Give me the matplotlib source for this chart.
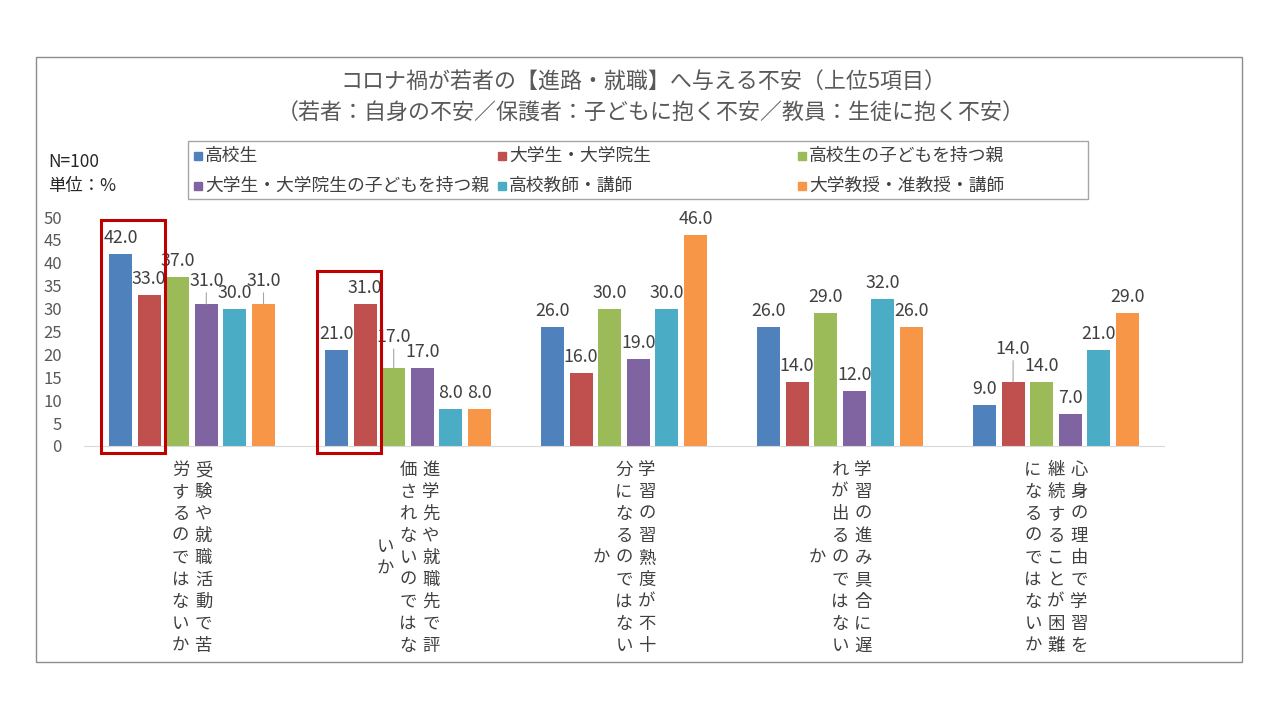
import numpy as np
import matplotlib
matplotlib.use('Agg')
import matplotlib.pyplot as plt
from matplotlib.patches import Rectangle

plt.rcParams['font.family'] = ['Noto Sans CJK JP', 'DejaVu Sans']

# Data
title_1 = 'コロナ禍が若者の【進路・就職】へ与える不安（上位5項目）'
title_2 = '（若者：自身の不安／保護者：子どもに抱く不安／教員：生徒に抱く不安）'
categories = ['受験や就職活動で苦労するのではないか',
              '進学先や就職先で評価されないのではないか',
              '学習の習熟度が不十分になるのではないか',
              '学習の進み具合に遅れが出るのではないか',
              '心身の理由で学習を継続することが困難になるのではないか']
groups = ['高校生', '大学生・大学院生', '高校生の子どもを持つ親',
          '大学生・大学院生の子どもを持つ親', '高校教師・講師', '大学教授・准教授・講師']
high_school = [42, 21, 26, 26, 9]
university = [33, 31, 16, 14, 14]
hs_parents = [37, 17, 30, 29, 14]
uni_parents = [31, 17, 19, 12, 7]
hs_teachers = [30, 8, 30, 32, 21]
uni_teachers = [31, 8, 46, 26, 29]
series = [high_school, university, hs_parents, uni_parents, hs_teachers, uni_teachers]
highlighted = [0, 1]   # categories with red box around the first two bars

colors = ['#4F81BD', '#C0504D', '#9BBB59', '#8064A2', '#4BACC6', '#F79646']
# label raise in pixels (where Excel moved the label up, with leader line)
raise_px = {(3, 0): 7, (5, 0): 7, (2, 1): 15, (1, 4): 17}

W, H = 1280, 720
PT = 0.72  # px -> pt at dpi 100

fig = plt.figure(figsize=(12.8, 7.2), dpi=100)

def fx(x):
    return x / W

def fy(y):
    return 1 - y / H

# outer frame
fig.patches.append(Rectangle((fx(36), fy(662)), fx(1242 - 36), (662 - 57) / H,
                             transform=fig.transFigure, fill=False,
                             ec='#8c8c8c', lw=1.0))

fig.text(fx(643), fy(83), title_1, ha='center', va='center', fontsize=15.8, color='#595959')
fig.text(fx(651), fy(114), title_2, ha='center', va='center', fontsize=15.8, color='#595959')
fig.text(fx(48), fy(162), 'N=100', ha='left', va='center', fontsize=12.5, color='#262626')
fig.text(fx(48), fy(186), '単位：%', ha='left', va='center', fontsize=12.5, color='#262626')

# legend (Excel style, equal column widths)
fig.patches.append(Rectangle((fx(188), fy(199)), fx(1088 - 188), (199 - 141) / H,
                             transform=fig.transFigure, fill=False,
                             ec='#a6a6a6', lw=1.0))
col_x = [194, 498, 798]
row_y = [156, 186]
for k, name in enumerate(groups):
    cx = col_x[k % 3]
    cy = row_y[k // 3]
    fig.patches.append(Rectangle((fx(cx), fy(cy + 4)), fx(8), 8 / H,
                                 transform=fig.transFigure, color=colors[k]))
    fig.text(fx(cx + 11), fy(cy), name, ha='left', va='center', fontsize=12.8, color='#404040')

# axes
ax = fig.add_axes([fx(84), fy(446), fx(1080), 229 / H])
ax.set_xlim(-0.5, 4.5)
ax.set_ylim(0, 50)
for s in ['left', 'top', 'right']:
    ax.spines[s].set_visible(False)
ax.spines['bottom'].set_color('#d9d9d9')
ax.set_yticks(np.arange(0, 51, 5))
ax.tick_params(axis='y', length=0, pad=16, labelsize=12, labelcolor='#595959')
ax.set_xticks([])

x = np.arange(len(categories))
pitch = 28.6 / 216
bw = 23 / 216
for j, vals in enumerate(series):
    xs = x + (j - 2.5) * pitch
    ax.bar(xs, vals, width=bw, color=colors[j])
    for i, v in enumerate(vals):
        r = raise_px.get((j, i), 0)
        props = None
        if r:
            props = dict(arrowstyle='-', color='#a6a6a6', lw=0.8, shrinkA=0, shrinkB=0)
        ax.annotate(f'{v:.1f}', xy=(xs[i], v), xytext=(0, (16 + r) * PT),
                    textcoords='offset points', ha='center', va='center',
                    fontsize=12.8, color='#404040', arrowprops=props)

# red highlight boxes
for i in highlighted:
    x0 = x[i] - 2.5 * pitch - bw / 2 - 8 / 216
    x1 = x[i] - 1.5 * pitch + bw / 2 + 4 / 216
    top = max(series[0][i], series[1][i]) + 7.3
    bottom = -7 / 4.58
    ax.add_patch(Rectangle((x0, bottom), x1 - x0, top - bottom, fill=False,
                           ec='#c00000', lw=2.2, clip_on=False, zorder=5))

# vertical (tategaki) category labels, columns right to left
per_col = 9
row_px, col_px, mid_px = 22, 23, 112
for i, label in enumerate(categories):
    cols = [label[k:k + per_col] for k in range(0, len(label), per_col)]
    n = len(cols)
    for c, chunk in enumerate(cols):
        dx = ((n - 1) / 2 - c) * col_px
        m = len(chunk)
        for r, ch in enumerate(chunk):
            dy = -(mid_px + (r - (m - 1) / 2) * row_px)
            ax.annotate(ch, xy=(x[i], 0), xytext=(dx * PT, dy * PT),
                        textcoords='offset points', ha='center', va='center',
                        fontsize=12.5, color='#404040', annotation_clip=False)

fig.savefig('out.png', dpi=100)
